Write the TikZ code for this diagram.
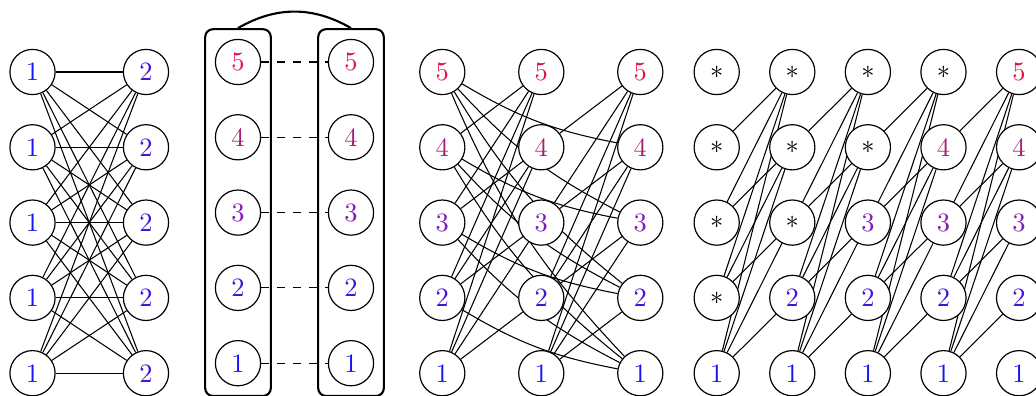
\documentclass[tikz,border=0pt]{standalone}
\usetikzlibrary{fit,backgrounds}
\definecolor{lab1}{RGB}{20,20,250}
\definecolor{lab2}{RGB}{70,20,215}
\definecolor{lab3}{RGB}{130,30,180}
\definecolor{lab4}{RGB}{165,30,120}
\definecolor{lab5}{RGB}{225,20,70}
\begin{document}
\begin{tikzpicture}[x=0.01328cm,y=-0.01328cm,
  vtx/.style={circle,draw,fill=white,minimum size=0.6cm,inner sep=0pt,line width=0.45pt},
  edge/.style={line width=0.4pt},
  bagbox/.style={draw,rounded corners=3pt,line width=0.8pt,inner sep=0.128cm},
  arcline/.style={line width=0.8pt}]
\useasboundingbox (0,0) rectangle (1036,396);
% panel 1
\foreach \r in {1,...,5}{
  \node[vtx,text=lab1] (A\r) at (32.5,{373.2-75.3*(\r-1)}) {1};
  \node[vtx,text=lab2] (B\r) at (146,{373.2-75.3*(\r-1)}) {2};
}
% panel 2
\foreach \r in {1,...,5}{
  \node[vtx,text=lab\r] (P\r) at (238,{363.2-75.3*(\r-1)}) {\r};
  \node[vtx,text=lab\r] (Q\r) at (351,{363.2-75.3*(\r-1)}) {\r};
}
\node[bagbox,fit=(P1)(P5)] (BL) {};
\node[bagbox,fit=(Q1)(Q5)] (BR) {};
\draw[arcline] (BL.north) to[bend left=30] (BR.north);
% panel 3
\foreach \c/\x in {1/442.3,2/541.3,3/640.3}{
  \foreach \r in {1,...,5}{
    \node[vtx,text=lab\r] (T\c-\r) at (\x,{373.2-75.3*(\r-1)}) {\r};
  }
}
% panel 4
\foreach \c in {1,...,5}{
  \foreach \r in {1,...,5}{
    \ifnum\r>\c
      \node[vtx] (S\c-\r) at ({716.7+75.6*(\c-1)},{373.2-75.3*(\r-1)}) {$*$};
    \else
      \node[vtx,text=lab\r] (S\c-\r) at ({716.7+75.6*(\c-1)},{373.2-75.3*(\r-1)}) {\r};
    \fi
  }
}
\begin{scope}[on background layer]
  \foreach \i in {1,...,5}{
    \foreach \j in {1,...,5}{
      \draw[edge] (A\i) -- (B\j);
    }
    \draw[edge,dashed] (P\i) -- (Q\i);
  }
  \foreach \i in {1,...,5}{
    \foreach \j in {1,...,5}{
      \ifnum\i<\j
        \draw[edge] (T1-\i) -- (T2-\j);
        \draw[edge] (T2-\i) -- (T3-\j);
        \draw[edge] (T1-\j) to[bend right=10] (T3-\i);
        \foreach \c [evaluate=\c as \d using int(\c+1)] in {1,...,4}{
          \draw[edge] (S\c-\i) -- (S\d-\j);
        }
      \fi
    }
  }
\end{scope}
\end{tikzpicture}
\end{document}
